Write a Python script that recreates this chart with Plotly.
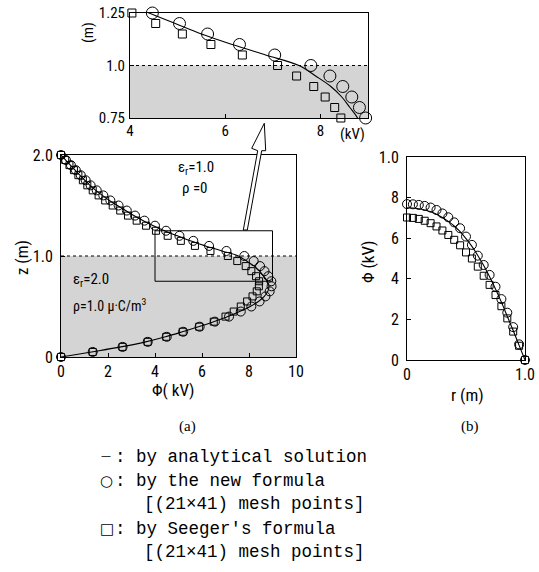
import plotly.graph_objects as go

# ---------------- data ----------------
# (a) potential along the axis, z grid = 0, 0.05, ..., 2.0 (41 mesh points)
z_m = [round(0.05 * i, 2) for i in range(41)]
phi_new_kv = [0, 1.35, 2.62, 3.69, 4.50, 5.20, 5.90, 6.55, 7.15, 7.65,
              8.10, 8.45, 8.70, 8.88, 8.96, 8.95, 8.82, 8.66, 8.47, 8.20,
              7.80, 7.04, 6.30, 5.63, 5.04, 4.47, 4.00, 3.55, 3.15, 2.80,
              2.45, 2.10, 1.80, 1.52, 1.26, 1.05, 0.84, 0.63, 0.42, 0.21, 0]
phi_seeger_kv = [0, 1.35, 2.62, 3.69, 4.48, 5.18, 5.88, 6.50, 7.00, 7.35,
                 7.65, 7.92, 8.15, 8.33, 8.42, 8.43, 8.30, 8.10, 7.86, 7.50,
                 7.10, 6.36, 5.70, 5.10, 4.54, 4.04, 3.62, 3.22, 2.85, 2.52,
                 2.20, 1.88, 1.60, 1.35, 1.12, 0.93, 0.74, 0.55, 0.36, 0.18, 0]
phi_analytic_kv = [0, 1.30, 2.55, 3.60, 4.45, 5.17, 5.85, 6.50, 7.10, 7.60,
                   8.05, 8.40, 8.65, 8.80, 8.85, 8.78, 8.62, 8.45, 8.22, 7.90,
                   7.55, 6.85, 6.15, 5.50, 4.95, 4.40, 3.93, 3.50, 3.10, 2.75,
                   2.40, 2.06, 1.76, 1.48, 1.23, 1.01, 0.80, 0.60, 0.40, 0.20, 0]

# (b) radial potential, r grid = 0, 0.05, ..., 1.0 (21 mesh points)
r_m = [round(0.05 * i, 2) for i in range(21)]
phi_r_new_kv = [7.68, 7.67, 7.64, 7.59, 7.51, 7.39, 7.22, 7.03, 6.78, 6.49,
                6.08, 5.67, 5.14, 4.68, 4.19, 3.61, 3.00, 2.33, 1.62, 0.77, 0]
phi_r_seeger_kv = [7.02, 7.00, 6.95, 6.86, 6.74, 6.58, 6.38, 6.16, 5.92, 5.65,
                   5.30, 5.00, 4.60, 4.15, 3.70, 3.20, 2.65, 2.05, 1.40, 0.70, 0]
phi_r_analytic_kv = [7.50, 7.49, 7.45, 7.39, 7.30, 7.18, 7.02, 6.83, 6.60, 6.32,
                     5.98, 5.60, 5.15, 4.65, 4.10, 3.50, 2.85, 2.15, 1.45, 0.72, 0]

# tick labels
a_x_ticks = [0, 2, 4, 6, 8, 10]
a_y_ticks = [0, 1.0, 2.0]
a_y_text = ["0", "1.0", "2.0"]
in_x_ticks = [4, 6, 8]
in_y_ticks = [0.75, 1.0, 1.25]
in_y_text = ["0.75", "1.0", "1.25"]
b_x_ticks = [0, 1.0]
b_x_text = ["0", "1.0"]
b_y_ticks = [0, 2, 4, 6, 8, 10]
b_y_text = ["0", "2", "4", "6", "8", "1.0"]

legend_lines = [": by analytical solution",
                ": by the new formula",
                "[(21×41) mesh points]",
                ": by Seeger's formula",
                "[(21×41) mesh points]"]

# ---------------- layout helpers ----------------
W, H = 539, 572


def px(x):
    return x / W


def py(y):
    return 1 - y / H


SANS = "Liberation Sans Narrow, Roboto Condensed, Roboto, Arial, sans-serif"
SERIF = "Liberation Serif, DejaVu Serif, serif"
MONO = "Liberation Mono, DejaVu Sans Mono, monospace"
SYM = "DejaVu Sans, sans-serif"
BLACK = "black"
SHADE = "rgb(212,212,212)"

fig = go.Figure()

# inset subset (zoomed window)
zin = [(z, a, b) for z, a, b in zip(z_m, phi_new_kv, phi_seeger_kv) if 0.74 <= z <= 1.26]

# ---- main (a)
fig.add_trace(go.Scatter(x=phi_analytic_kv, y=z_m, mode="lines", line=dict(color=BLACK, width=1.1, shape="spline"),
                         xaxis="x", yaxis="y", showlegend=False))
fig.add_trace(go.Scatter(x=phi_seeger_kv, y=z_m, mode="markers", cliponaxis=False,
                         marker=dict(symbol="square-open", size=7, color=BLACK, line=dict(width=1)),
                         xaxis="x", yaxis="y", showlegend=False))
fig.add_trace(go.Scatter(x=phi_new_kv, y=z_m, mode="markers", cliponaxis=False,
                         marker=dict(symbol="circle-open", size=9, color=BLACK, line=dict(width=1)),
                         xaxis="x", yaxis="y", showlegend=False))

# ---- inset
fig.add_trace(go.Scatter(x=phi_analytic_kv, y=z_m, mode="lines", line=dict(color=BLACK, width=1.1, shape="spline"),
                         xaxis="x2", yaxis="y2", showlegend=False))
fig.add_trace(go.Scatter(x=[t[2] for t in zin], y=[t[0] for t in zin], mode="markers", cliponaxis=False,
                         marker=dict(symbol="square-open", size=8, color=BLACK, line=dict(width=1)),
                         xaxis="x2", yaxis="y2", showlegend=False))
fig.add_trace(go.Scatter(x=[t[1] for t in zin], y=[t[0] for t in zin], mode="markers", cliponaxis=False,
                         marker=dict(symbol="circle-open", size=12, color=BLACK, line=dict(width=1)),
                         xaxis="x2", yaxis="y2", showlegend=False))

# ---- (b)
fig.add_trace(go.Scatter(x=r_m, y=phi_r_analytic_kv, mode="lines", line=dict(color=BLACK, width=1.1, shape="spline"),
                         xaxis="x3", yaxis="y3", showlegend=False))
fig.add_trace(go.Scatter(x=r_m, y=phi_r_seeger_kv, mode="markers", cliponaxis=False,
                         marker=dict(symbol="square-open", size=7, color=BLACK, line=dict(width=1)),
                         xaxis="x3", yaxis="y3", showlegend=False))
fig.add_trace(go.Scatter(x=r_m, y=phi_r_new_kv, mode="markers", cliponaxis=False,
                         marker=dict(symbol="circle-open", size=9, color=BLACK, line=dict(width=1)),
                         xaxis="x3", yaxis="y3", showlegend=False))


def ax(domain, rng, tickvals, ticktext=None, anchor=None, fs=14, standoff=0):
    d = dict(domain=domain, range=rng, tickvals=tickvals, showgrid=False, zeroline=False,
             showline=True, mirror=True, linecolor=BLACK, linewidth=1,
             ticks="inside", ticklen=4, tickcolor=BLACK, automargin=False,
             tickfont=dict(family=SANS, size=fs, color=BLACK), anchor=anchor,
             ticklabelstandoff=standoff)
    if ticktext is not None:
        d["ticktext"] = ticktext
    return d


fig.update_layout(
    template="none",
    width=W, height=H, margin=dict(l=0, r=0, t=0, b=0, pad=0, autoexpand=False),
    paper_bgcolor="white", plot_bgcolor="rgba(0,0,0,0)",
    xaxis=ax([px(61), px(296)], [0, 10], a_x_ticks, anchor="y", fs=16, standoff=0),
    yaxis=ax([py(357), py(155)], [0, 2], a_y_ticks, a_y_text, anchor="x", fs=16, standoff=4),
    xaxis2=ax([px(130), px(368)], [4, 9], in_x_ticks, anchor="y2", fs=15, standoff=-1),
    yaxis2=ax([py(118), py(13)], [0.75, 1.25], in_y_ticks, in_y_text, anchor="x2", fs=15, standoff=1),
    xaxis3=ax([px(407), px(525)], [0, 1], b_x_ticks, b_x_text, anchor="y3", fs=16, standoff=0),
    yaxis3=ax([py(360), py(157)], [0, 10], b_y_ticks, b_y_text, anchor="x3", fs=16, standoff=4),
)

shapes = []
# shaded regions (eps_r = 2.0 with space charge) and interface lines
shapes.append(dict(type="rect", xref="x", yref="y", x0=0, x1=10, y0=0, y1=1.0,
                   fillcolor=SHADE, line=dict(width=0), layer="below"))
shapes.append(dict(type="line", xref="x", yref="y", x0=0, x1=10, y0=1.0, y1=1.0,
                   line=dict(color=BLACK, width=1, dash="dot")))
shapes.append(dict(type="rect", xref="x2", yref="y2", x0=4, x1=9, y0=0.75, y1=1.0,
                   fillcolor=SHADE, line=dict(width=0), layer="below"))
shapes.append(dict(type="line", xref="x2", yref="y2", x0=4, x1=9, y0=1.0, y1=1.0,
                   line=dict(color=BLACK, width=1, dash="dot")))
# zoom window in (a) corresponds to inset range
shapes.append(dict(type="rect", xref="x", yref="y", x0=4, x1=9, y0=0.75, y1=1.25,
                   line=dict(color=BLACK, width=1)))
# hollow arrow pointing to the inset
arrow_pts = [(243.3, 230), (257.7, 150.7), (251.7, 148.3), (264.3, 123.3),
             (265.7, 150.7), (261.7, 150.7), (247.3, 230)]
path = "M " + " L ".join(f"{px(x):.5f},{py(y):.5f}" for x, y in arrow_pts) + " Z"
shapes.append(dict(type="path", xref="paper", yref="paper", path=path,
                   fillcolor="white", line=dict(color=BLACK, width=1)))
fig.update_layout(shapes=shapes)

ann = []


def text(x, y, s, size=14, family=SANS, xanchor="center", angle=0):
    ann.append(dict(x=px(x), y=py(y), xref="paper", yref="paper", text=s, showarrow=False,
                    xanchor=xanchor, yanchor="middle", textangle=angle,
                    font=dict(family=family, size=size, color=BLACK)))


# axis titles
text(173, 390, "Φ( kV)", 17)
text(22, 258, "z (m)", 17, angle=-90)
text(88, 33, "(m)", 15, angle=-90)
text(352, 134, "(kV)", 15)
text(368, 262, "Φ (kV)", 17, angle=-90)
text(467, 395, "r (m)", 17)
# region labels
text(176, 168, "ε<sub>r</sub>=1.0", 15, xanchor="left")
text(180, 188, "ρ =0", 15, xanchor="left")
text(71, 280, "ε<sub>r</sub>=2.0", 15, xanchor="left")
text(71, 305, "ρ=1.0 μ·C/m<sup>3</sup>", 14, xanchor="left")
# panel labels
text(188, 426, "(a)", 15, SERIF)
text(470, 426, "(b)", 15, SERIF)
# legend
text(99, 455.5, "—", 10, SYM, xanchor="left")
text(98, 481, "○", 15, SYM, xanchor="left")
text(98, 529, "□", 15, SYM, xanchor="left")
text(113, 457, legend_lines[0], 17.5, MONO, xanchor="left")
text(113, 481, legend_lines[1], 17.5, MONO, xanchor="left")
text(142, 504, legend_lines[2], 17.5, MONO, xanchor="left")
text(113, 529, legend_lines[3], 17.5, MONO, xanchor="left")
text(142, 552, legend_lines[4], 17.5, MONO, xanchor="left")
fig.update_layout(annotations=ann)

fig.write_html("out.html", config={"displayModeBar": False},
               post_script="document.body.style.margin='0px';document.body.style.padding='0px';"
                           "document.documentElement.style.overflow='hidden';")
